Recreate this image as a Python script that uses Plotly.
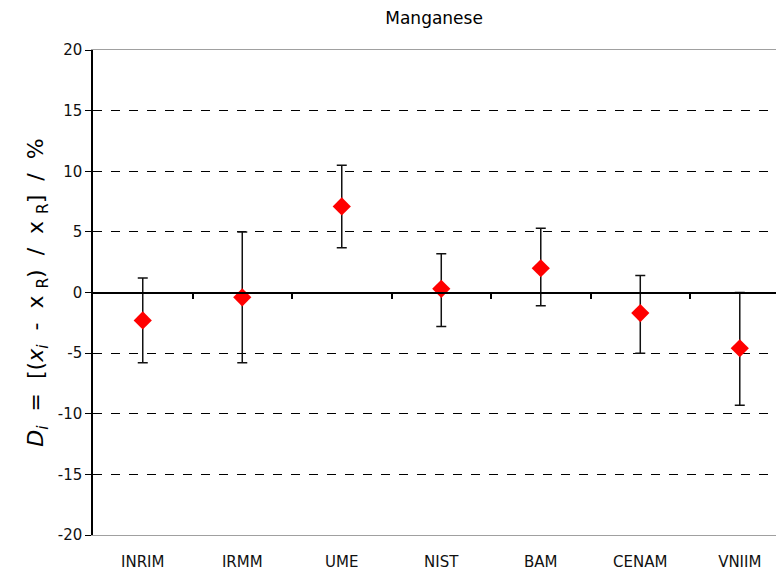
import plotly.graph_objects as go

labs = ["INRIM", "IRMM", "UME", "NIST", "BAM", "CENAM", "VNIIM"]
vals = [-2.3, -0.4, 7.1, 0.3, 2.0, -1.7, -4.6]
upper = [1.2, 5.0, 10.5, 3.2, 5.3, 1.4, 0.0]
lower = [-5.8, -5.8, 3.7, -2.8, -1.1, -5.0, -9.3]
yticks = [-20, -15, -10, -5, 0, 5, 10, 15, 20]
ygrid = [-15, -10, -5, 5, 10, 15]
bounds = [0.5, 1.5, 2.5, 3.5, 4.5, 5.5]

err_plus = [u - v for u, v in zip(upper, vals)]
err_minus = [v - l for v, l in zip(vals, lower)]
xs = list(range(len(labs)))

fig = go.Figure()
# invisible trace on the grid axis
fig.add_trace(go.Scatter(x=[xs[0]], y=[0], yaxis="y2", mode="markers",
                         marker=dict(opacity=0), showlegend=False, hoverinfo="skip"))
# invisible trace to activate the zero-line axis with boundary ticks
fig.add_trace(go.Scatter(x=[xs[0]], y=[0], xaxis="x2", mode="markers",
                         marker=dict(opacity=0), showlegend=False, hoverinfo="skip"))
fig.add_trace(go.Scatter(
    x=xs, y=vals, mode="markers",
    marker=dict(symbol="diamond", size=14, color="#ff0000"),
    error_y=dict(type="data", symmetric=False, array=err_plus, arrayminus=err_minus,
                 color="#111111", thickness=1.5, width=5),
    showlegend=False,
))

font = "DejaVu Sans"
fig.update_layout(
    width=776, height=575,
    margin=dict(l=93, r=0, t=50, b=40),
    paper_bgcolor="white", plot_bgcolor="white",
    font=dict(family=font, size=14, color="#000000"),
    title=dict(text="Manganese", x=0.5594, xanchor="center", y=0.968, yanchor="middle",
               font=dict(family=font, size=17, color="#000000")),
    xaxis=dict(
        range=[-0.5, 6.364], tickmode="array", tickvals=xs, ticktext=labs,
        showgrid=False, zeroline=False, showline=True, linecolor="#a0a0a0", linewidth=1,
        mirror=True, ticks="", ticklabelstandoff=13,
        tickfont=dict(family=font, size=15, color="#111111"),
    ),
    xaxis2=dict(
        overlaying="x", anchor="free", position=0.5, side="bottom", range=[-0.5, 6.364],
        tickmode="array", tickvals=bounds, ticktext=[""] * len(bounds), showticklabels=True,
        showline=True, linecolor="#000000", linewidth=1.5,
        ticks="outside", ticklen=6, tickwidth=2, tickcolor="#000000",
        showgrid=False, zeroline=False,
    ),
    yaxis=dict(
        range=[-20, 20], tickmode="array", tickvals=yticks,
        ticktext=[str(v) for v in yticks],
        showgrid=False, zeroline=False, showline=True, linecolor="#000000", linewidth=1.5,
        ticks="outside", ticklen=6, tickwidth=1.2, tickcolor="#000000",
        tickfont=dict(family=font, size=15, color="#111111"),
        title=dict(text="<i>D<sub>i</sub></i>  =  [(<i>x<sub>i</sub></i>  -  x <sub>R</sub>)  /  x <sub>R</sub>]  /  %",
                   font=dict(family=font, size=22, color="#000000"), standoff=8),
    ),
    yaxis2=dict(
        overlaying="y", range=[-20, 20], tickmode="array", tickvals=ygrid,
        showticklabels=False, showgrid=True, gridcolor="#000000", griddash="dash",
        gridwidth=1, zeroline=False, showline=False, ticks="",
    ),
)

fig.write_html("out.html")
